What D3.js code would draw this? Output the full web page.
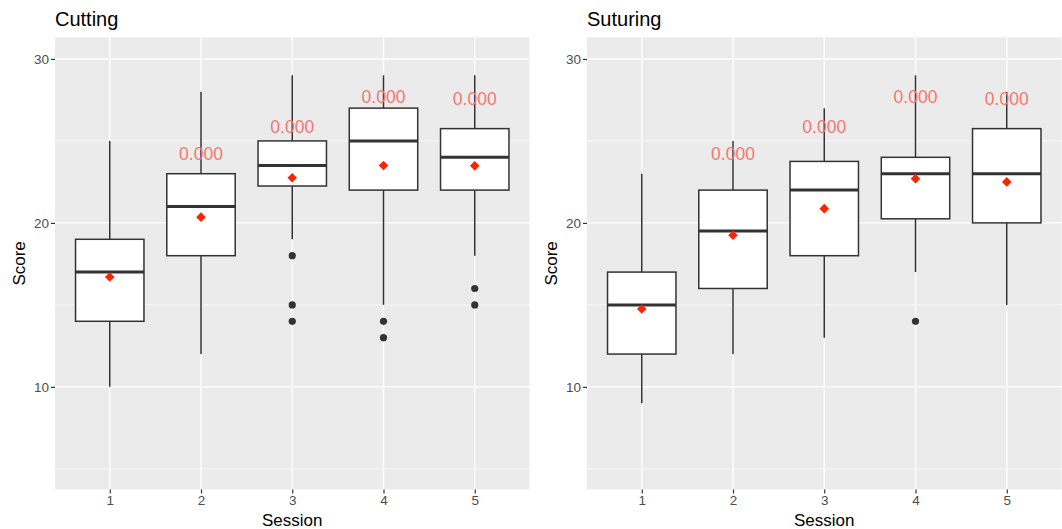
<!DOCTYPE html>
<html>
<head>
<meta charset="utf-8">
<script src="https://cdn.jsdelivr.net/npm/d3@7"></script>
<style>
  html, body { margin: 0; padding: 0; background: #ffffff; }
  svg { display: block; font-family: "Liberation Sans", Arial, Helvetica, sans-serif; }
</style>
</head>
<body>
<svg id="chart" width="1062" height="529"></svg>
<script>
// ---- data ----
const sessions = ["1", "2", "3", "4", "5"];
const yTicks = [10, 20, 30];
const yMinorTicks = [5, 15, 25];

const cuttingLower   = [10, 12, 19, 15, 18];
const cuttingQ1      = [14, 18, 22.25, 22, 22];
const cuttingMedian  = [17, 21, 23.5, 25, 24];
const cuttingQ3      = [19, 23, 25, 27, 25.75];
const cuttingUpper   = [25, 28, 29, 29, 29];
const cuttingMean    = [16.7, 20.35, 22.75, 23.5, 23.48];
const cuttingOutliers = [[], [], [18, 15, 14], [14, 13], [16, 15]];

const suturingLower   = [9, 12, 13, 17, 15];
const suturingQ1      = [12, 16, 18, 20.25, 20];
const suturingMedian  = [15, 19.5, 22, 23, 23];
const suturingQ3      = [17, 22, 23.75, 24, 25.75];
const suturingUpper   = [23, 25, 27, 29, 28];
const suturingMean    = [14.75, 19.25, 20.87, 22.7, 22.5];
const suturingOutliers = [[], [], [], [14], []];

const pLabels = ["", "0.000", "0.000", "0.000", "0.000"];
const pLabelY = [null, 24.2, 25.85, 27.65, 27.55];

const panels = [
  { title: "Cutting", lower: cuttingLower, q1: cuttingQ1, median: cuttingMedian, q3: cuttingQ3,
    upper: cuttingUpper, mean: cuttingMean, outliers: cuttingOutliers, x0: 55, x1: 529.5, labelX: 25 },
  { title: "Suturing", lower: suturingLower, q1: suturingQ1, median: suturingMedian, q3: suturingQ3,
    upper: suturingUpper, mean: suturingMean, outliers: suturingOutliers, x0: 587, x1: 1061.5, labelX: 557 }
];

// ---- layout ----
const svg = d3.select("#chart");
const yTop = 37.3, yBottom = 489.5;
const y = d3.scaleLinear().domain([3.74, 31.32]).range([yBottom, yTop]);

panels.forEach(p => {
  const g = svg.append("g");
  const x = d3.scalePoint().domain(sessions).range([p.x0, p.x1]).padding(0.6);
  const step = x.step();
  const bw = step * 0.75;

  // panel background
  g.append("rect").attr("x", p.x0).attr("y", yTop)
    .attr("width", p.x1 - p.x0).attr("height", yBottom - yTop).attr("fill", "#EBEBEB");

  // minor grid
  g.selectAll(".ming").data(yMinorTicks).enter().append("line")
    .attr("x1", p.x0).attr("x2", p.x1).attr("y1", d => y(d)).attr("y2", d => y(d))
    .attr("stroke", "#ffffff").attr("stroke-width", 0.7);
  // major grid
  g.selectAll(".majg").data(yTicks).enter().append("line")
    .attr("x1", p.x0).attr("x2", p.x1).attr("y1", d => y(d)).attr("y2", d => y(d))
    .attr("stroke", "#ffffff").attr("stroke-width", 1.4);
  g.selectAll(".xg").data(sessions).enter().append("line")
    .attr("x1", d => x(d)).attr("x2", d => x(d)).attr("y1", yTop).attr("y2", yBottom)
    .attr("stroke", "#ffffff").attr("stroke-width", 1.4);

  // axes
  const yAxis = d3.axisLeft(y).tickValues(yTicks).tickSize(4).tickPadding(2).tickFormat(d3.format("d"));
  const ya = g.append("g").attr("transform", `translate(${p.x0},0)`).call(yAxis);
  ya.select(".domain").remove();
  ya.selectAll(".tick line").attr("stroke", "#333333").attr("stroke-width", 1.2);
  ya.selectAll(".tick text").attr("fill", "#4D4D4D").style("font-size", "13.5px");

  const xAxis = d3.axisBottom(x).tickSize(4).tickPadding(2);
  const xa = g.append("g").attr("transform", `translate(0,${yBottom})`).call(xAxis);
  xa.select(".domain").remove();
  xa.selectAll(".tick line").attr("stroke", "#333333").attr("stroke-width", 1.2);
  xa.selectAll(".tick text").attr("fill", "#4D4D4D").style("font-size", "13.5px");

  // boxes
  const idx = d3.range(sessions.length);
  // whiskers
  g.selectAll(".wu").data(idx).enter().append("line")
    .attr("x1", i => x(sessions[i])).attr("x2", i => x(sessions[i]))
    .attr("y1", i => y(p.q3[i])).attr("y2", i => y(p.upper[i]))
    .attr("stroke", "#333333").attr("stroke-width", 1.5);
  g.selectAll(".wl").data(idx).enter().append("line")
    .attr("x1", i => x(sessions[i])).attr("x2", i => x(sessions[i]))
    .attr("y1", i => y(p.q1[i])).attr("y2", i => y(p.lower[i]))
    .attr("stroke", "#333333").attr("stroke-width", 1.5);
  g.selectAll(".box").data(idx).enter().append("rect")
    .attr("x", i => x(sessions[i]) - bw / 2).attr("width", bw)
    .attr("y", i => y(p.q3[i])).attr("height", i => y(p.q1[i]) - y(p.q3[i]))
    .attr("fill", "#ffffff").attr("stroke", "#333333").attr("stroke-width", 1.5);
  g.selectAll(".med").data(idx).enter().append("line")
    .attr("x1", i => x(sessions[i]) - bw / 2).attr("x2", i => x(sessions[i]) + bw / 2)
    .attr("y1", i => y(p.median[i])).attr("y2", i => y(p.median[i]))
    .attr("stroke", "#333333").attr("stroke-width", 3);

  // outliers
  const outs = [];
  p.outliers.forEach((arr, i) => arr.forEach(v => outs.push({ s: sessions[i], v })));
  g.selectAll(".out").data(outs).enter().append("circle")
    .attr("cx", d => x(d.s)).attr("cy", d => y(d.v)).attr("r", 3.6).attr("fill", "#333333");

  // means (diamonds)
  const diamond = d3.symbol().type(d3.symbolDiamond2 || d3.symbolSquare).size(48);
  g.selectAll(".mean").data(idx).enter().append("path")
    .attr("d", d3.symbol().type(d3.symbolSquare).size(46))
    .attr("transform", i => `translate(${x(sessions[i])},${y(p.mean[i])}) rotate(45)`)
    .attr("fill", "#FF2200");

  // p-value labels
  g.selectAll(".plab").data(idx.filter(i => pLabels[i] !== "")).enter().append("text")
    .attr("x", i => x(sessions[i])).attr("y", i => y(pLabelY[i]))
    .attr("text-anchor", "middle").attr("dominant-baseline", "central")
    .attr("fill", "#F8766D").style("font-size", "17.5px")
    .text(i => pLabels[i]);

  // titles
  g.append("text").attr("x", p.x0).attr("y", 25.5).attr("fill", "#000000")
    .style("font-size", "20px").text(p.title);
  g.append("text").attr("x", (p.x0 + p.x1) / 2).attr("y", 526)
    .attr("text-anchor", "middle").attr("fill", "#000000").style("font-size", "17px").text("Session");
  g.append("text").attr("transform", `translate(${p.labelX},${(yTop + yBottom) / 2}) rotate(-90)`)
    .attr("text-anchor", "middle").attr("fill", "#000000").style("font-size", "17px").text("Score");
});
</script>
</body>
</html>
